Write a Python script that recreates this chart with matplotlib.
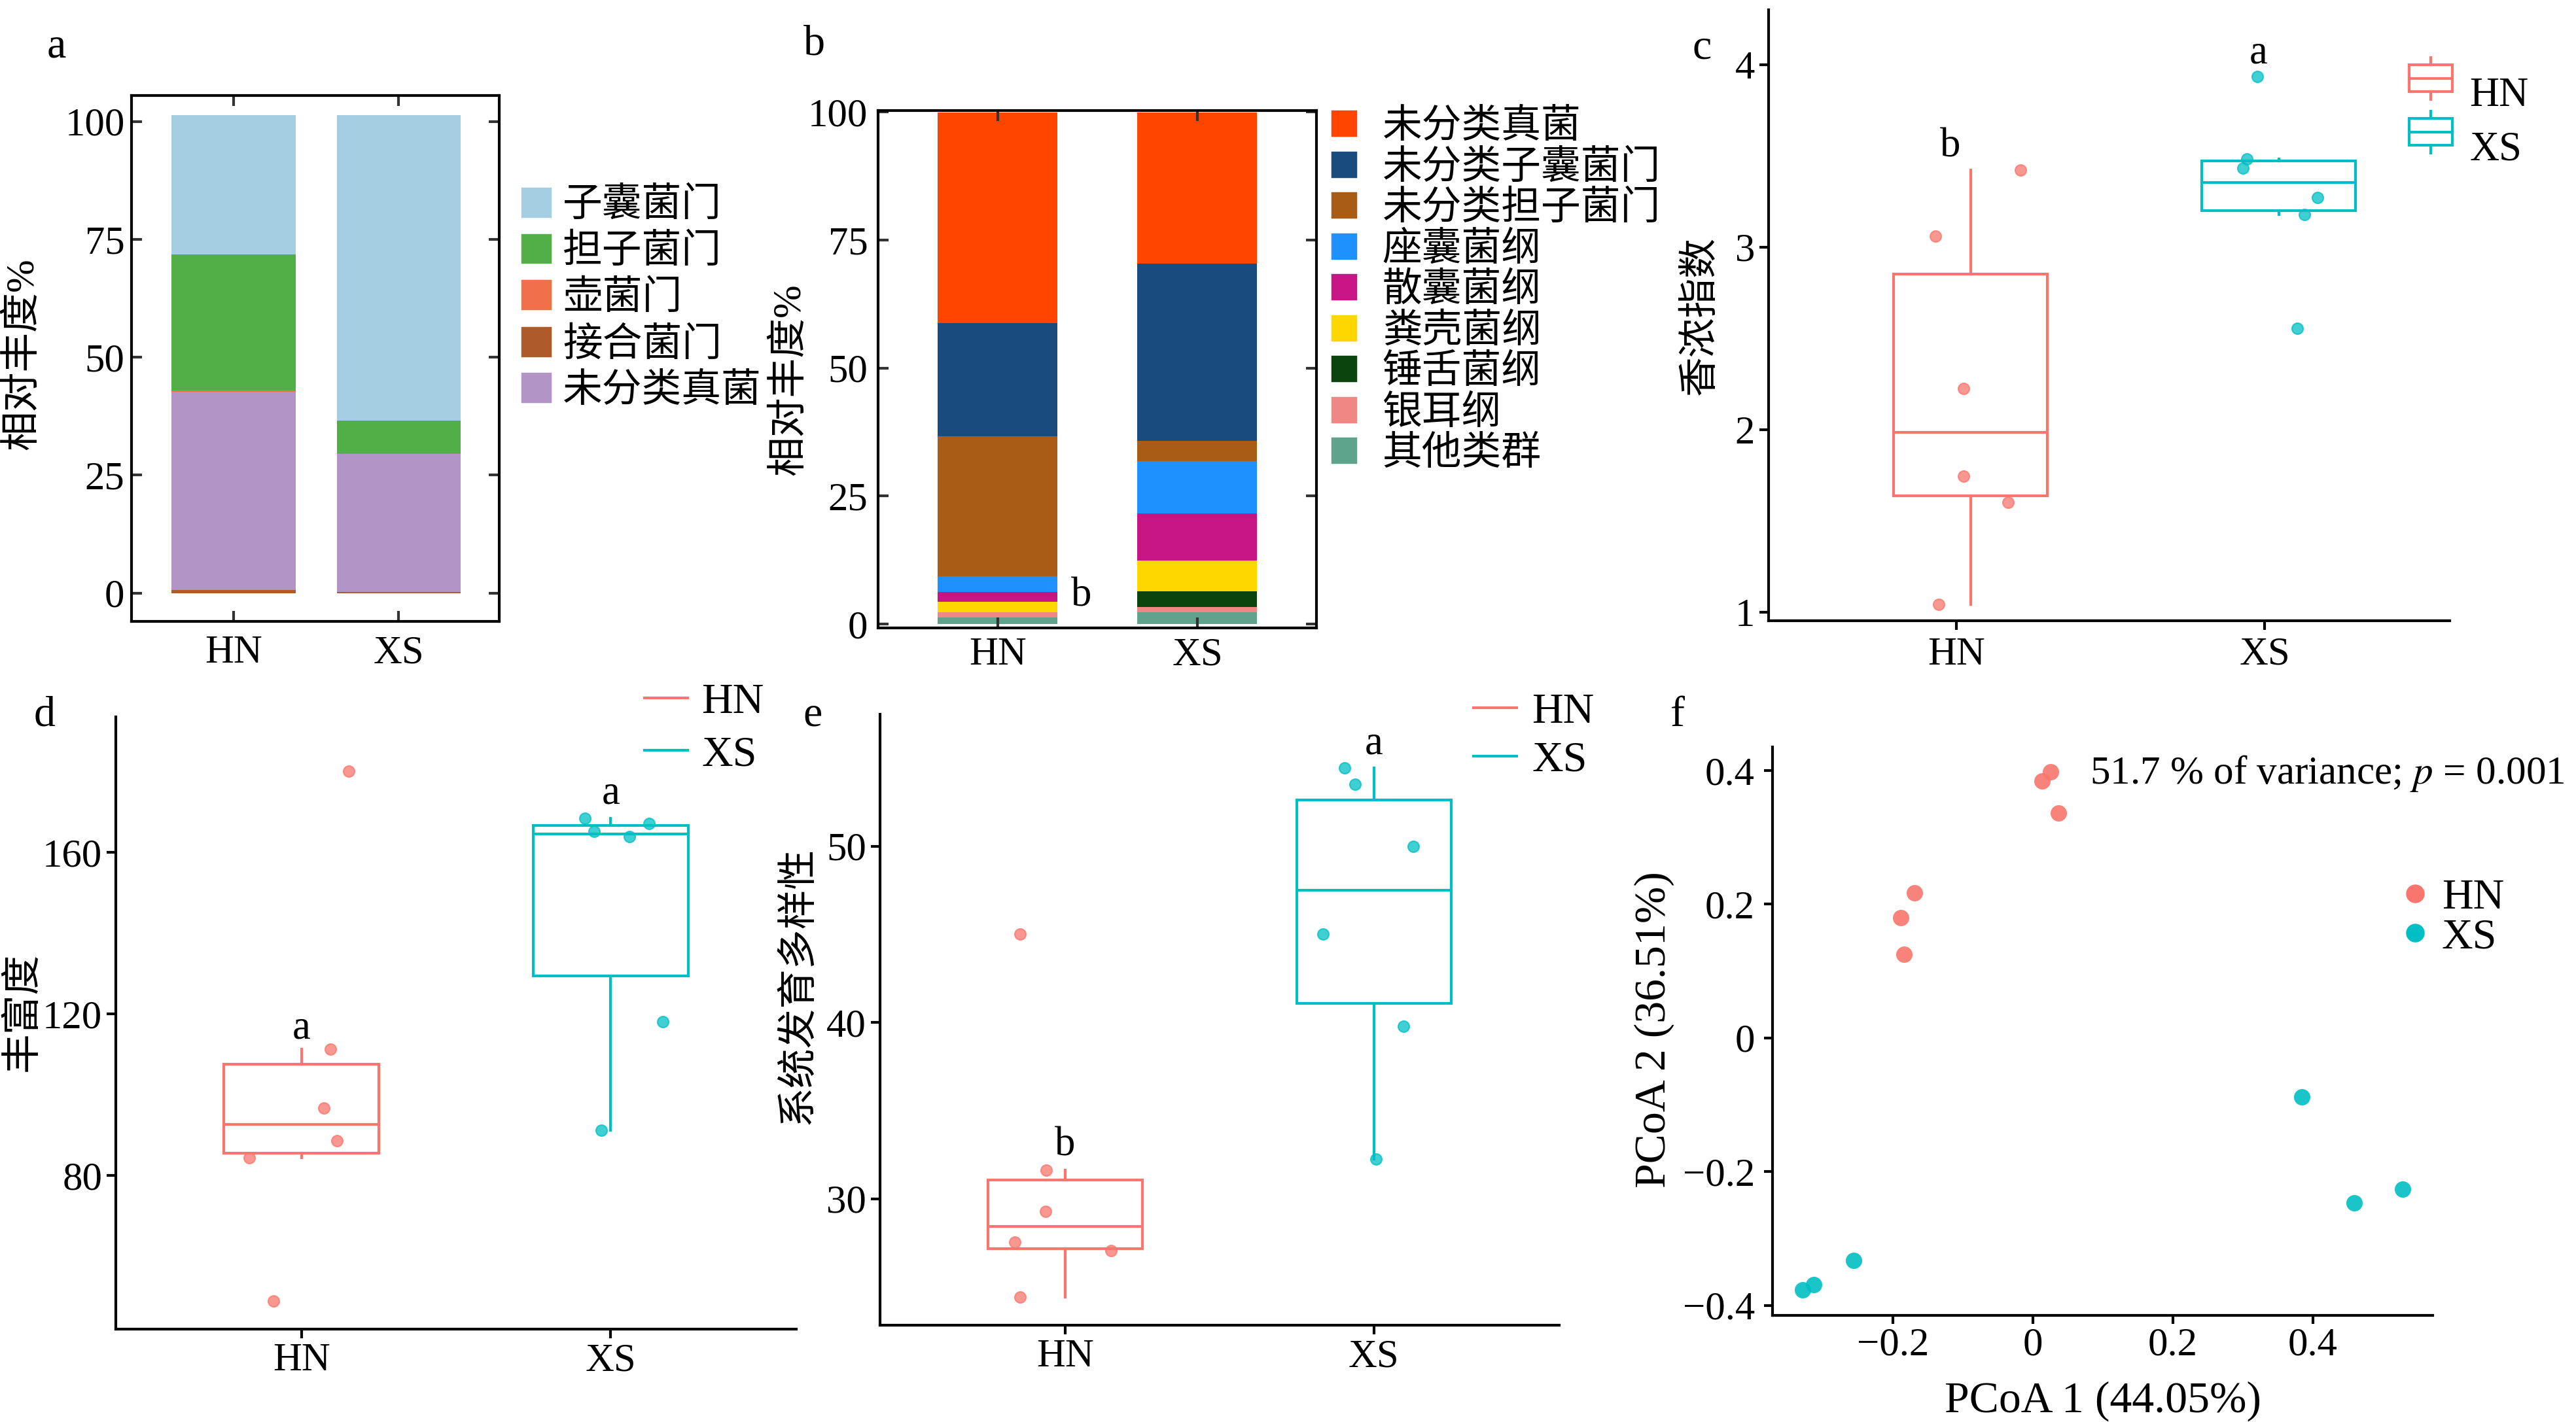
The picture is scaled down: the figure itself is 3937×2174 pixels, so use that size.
import numpy as np
import matplotlib.pyplot as plt
from matplotlib.patches import Patch, Rectangle
from matplotlib.lines import Line2D
from matplotlib.legend_handler import HandlerBase

plt.rcParams['font.family'] = ['Liberation Serif', 'Noto Sans CJK SC']
plt.rcParams['mathtext.fontset'] = 'stix'
plt.rcParams['legend.borderaxespad'] = 0

W, H = 3937, 2174
fig = plt.figure(figsize=(W / 250, H / 250), dpi=250)


def rect(l, t, r, b):
    # pixel box -> figure fraction
    return [l / W, 1 - b / H, (r - l) / W, (b - t) / H]


groups = ['HN', 'XS']
hn_col, xs_col = '#F8766D', '#00BFC4'

# ---- a: phylum level ----
phylum = ['子囊菌门', '担子菌门', '壶菌门', '接合菌门', '未分类真菌']
phylum_colors = ['#A6CEE3', '#52AE47', '#F0704A', '#AF5A2B', '#B294C6']
phylum_hn = [29.5, 28.9, 0.2, 0.7, 42.0]
phylum_xs = [64.7, 7.0, 0.1, 0.2, 29.3]
phylum_stack = [3, 4, 2, 1, 0]   # bottom -> top

# ---- b: class level ----
classes = ['未分类真菌', '未分类子囊菌门', '未分类担子菌门', '座囊菌纲', '散囊菌纲',
           '粪壳菌纲', '锤舌菌纲', '银耳纲', '其他类群']
class_colors = ['#FF4500', '#1A4B7E', '#A85C15', '#1E90FF', '#C71585',
                '#FFD700', '#0B440D', '#F08784', '#5FA38D']
class_hn = [41.2, 22.1, 27.3, 3.0, 2.0, 2.0, 0.0, 1.0, 1.3]
class_xs = [29.5, 34.6, 4.0, 10.2, 9.2, 6.0, 3.1, 1.0, 2.3]

# ---- c: shannon ----
shannon_hn = [3.06, 3.42, 2.225, 1.745, 1.60, 1.04]
shannon_xs = [3.935, 3.484, 3.432, 3.273, 3.177, 2.554]
shannon_jit_hn = [-0.068, 0.207, 0.023, 0.023, 0.166, -0.057]
shannon_jit_xs = [-0.024, -0.059, -0.071, 0.172, 0.129, 0.106]

# ---- d: richness ----
rich_hn = [180.2, 111.2, 96.75, 88.6, 84.4, 48.9]
rich_xs = [168.4, 165.2, 164.0, 167.2, 118.0, 91.2]
rich_jit_hn = [0.153, 0.094, 0.073, 0.115, -0.169, -0.090]
rich_jit_xs = [-0.084, -0.053, 0.061, 0.124, 0.169, -0.031]

# ---- e: phylogenetic diversity ----
pd_hn = [45.0, 31.64, 29.28, 27.56, 27.06, 24.42]
pd_xs = [54.44, 53.5, 49.97, 45.0, 39.8, 32.25]
pd_jit_hn = [-0.146, -0.062, -0.064, -0.164, 0.148, -0.146]
pd_jit_xs = [-0.096, -0.062, 0.128, -0.166, 0.096, 0.007]

# ---- f: PCoA ----
pc1_hn = [0.025, 0.013, 0.036, -0.169, -0.189, -0.184]
pc2_hn = [0.398, 0.384, 0.336, 0.217, 0.180, 0.125]
pc1_xs = [0.384, 0.459, 0.528, -0.256, -0.313, -0.329]
pc2_xs = [-0.088, -0.247, -0.226, -0.333, -0.369, -0.377]

TICK = 17.5
CJK = 17.5


def box_axes(ax):
    for s in ax.spines.values():
        s.set_linewidth(1.2)
    ax.tick_params(direction='in', top=True, right=True, length=4.5, width=1.2,
                   color='#333333', labelsize=TICK)
    ax.set_xticks([0, 1])
    ax.set_xticklabels(groups)


def classic_axes(ax):
    for s in ['top', 'right']:
        ax.spines[s].set_visible(False)
    for s in ['left', 'bottom']:
        ax.spines[s].set_linewidth(1.2)
    ax.tick_params(direction='out', length=4, width=1.2, labelsize=TICK, pad=2)
    ax.set_xticks([1, 2])
    ax.set_xticklabels(groups)
    ax.set_xlim(0.4, 2.6)


def draw_boxes(ax, vals, jits, shift=0.0):
    for i, (v, j, c) in enumerate(zip(vals, jits, [hn_col, xs_col])):
        ax.boxplot(v, positions=[i + 1 + shift], widths=0.5, showcaps=False,
                   showfliers=False, patch_artist=True, manage_ticks=False,
                   boxprops=dict(facecolor='white', edgecolor=c, lw=1.2),
                   medianprops=dict(color=c, lw=1.2),
                   whiskerprops=dict(color=c, lw=1.2))
        ax.scatter(i + 1 + np.array(j), v, s=24, facecolor=c, edgecolor=c,
                   alpha=0.75, lw=0.6, zorder=4)


# ---------------- panel a ----------------
ax = fig.add_axes(rect(201, 146, 763, 950))
bottom = np.zeros(2)
for k in phylum_stack:
    h = np.array([phylum_hn[k], phylum_xs[k]])
    ax.bar([0, 1], h, bottom=bottom, width=0.75, color=phylum_colors[k], lw=0)
    bottom += h
box_axes(ax)
ax.set_xlim(-0.617, 1.608)
ax.set_ylim(-6, 105.5)
ax.set_yticks([0, 25, 50, 75, 100])
ax.tick_params(axis='y', pad=3)
ax.tick_params(axis='x', pad=6)
ax.set_ylabel('相对丰度%', fontsize=CJK)
ax.yaxis.set_label_coords(-0.246, 0.509)
fig.legend(handles=[Patch(color=c, label=n) for n, c in zip(phylum, phylum_colors)],
           loc='center left', bbox_to_anchor=(798 / W, 1 - 457 / H), frameon=False,
           fontsize=CJK, borderpad=0, handlelength=0.7, handleheight=0.71,
           handletextpad=0.32, labelspacing=0.24)

# ---------------- panel b ----------------
ax = fig.add_axes(rect(1342, 169, 2012, 960))
bottom = np.zeros(2)
for k in range(len(classes) - 1, -1, -1):
    h = np.array([class_hn[k], class_xs[k]])
    ax.bar([0, 1], h, bottom=bottom, width=0.6, color=class_colors[k], lw=0)
    bottom += h
box_axes(ax)
ax.set_xlim(-0.6, 1.597)
ax.set_ylim(-0.77, 100.26)
ax.set_yticks([0, 25, 50, 75, 100])
ax.tick_params(axis='y', pad=4.5)
ax.tick_params(axis='x', pad=4)
ax.set_ylabel('相对丰度%', fontsize=CJK)
ax.yaxis.set_label_coords(-0.16, 0.48)
ax.text(0.42, 5.4, 'b', fontsize=18, ha='center', va='center')
fig.legend(handles=[Patch(color=c, label=n) for n, c in zip(classes, class_colors)],
           loc='center left', bbox_to_anchor=(2036 / W, 1 - 445 / H), frameon=False,
           fontsize=CJK, borderpad=0, handlelength=0.6, handleheight=0.56,
           handletextpad=0.66, labelspacing=0.1)


# ---------------- panel c ----------------
class BoxKey(HandlerBase):
    def create_artists(self, legend, orig, xd, yd, w, h, fs, trans):
        c = orig.get_edgecolor()
        r = Rectangle((xd, yd + 0.18 * h), w, 0.64 * h, fc='white', ec=c, lw=1.2,
                      transform=trans)
        m = Line2D([xd, xd + w], [yd + 0.5 * h] * 2, color=c, lw=1.2, transform=trans)
        t = Line2D([xd + w / 2] * 2, [yd + 0.82 * h, yd + h], color=c, lw=1.2,
                   transform=trans)
        b = Line2D([xd + w / 2] * 2, [yd, yd + 0.18 * h], color=c, lw=1.2,
                   transform=trans)
        return [r, m, t, b]


ax = fig.add_axes(rect(2703, 15, 3744, 949))
classic_axes(ax)
draw_boxes(ax, [shannon_hn, shannon_xs], [shannon_jit_hn, shannon_jit_xs], shift=0.045)
ax.set_xlim(0.39, 2.6)
ax.set_ylim(0.952, 4.30)
ax.set_yticks([1, 2, 3, 4])
ax.tick_params(axis='x', pad=3)
ax.set_ylabel('香浓指数', fontsize=CJK)
ax.yaxis.set_label_coords(-0.072, 0.5)
ax.text(0.98, 3.55, 'b', fontsize=18, ha='center', va='center')
ax.text(1.98, 4.06, 'a', fontsize=18, ha='center', va='center')
fig.legend(handles=[Patch(fc='white', ec=hn_col, label='HN'),
                    Patch(fc='white', ec=xs_col, label='XS')],
           handler_map={Patch: BoxKey()}, loc='center left',
           bbox_to_anchor=(3682 / W, 1 - 184 / H), frameon=False, fontsize=18,
           borderpad=0, handlelength=1.06, handleheight=1.2, handletextpad=0.42,
           labelspacing=0.24)

# ---------------- panel d ----------------
ax = fig.add_axes(rect(177, 1096, 1217, 2032))
classic_axes(ax)
draw_boxes(ax, [rich_hn, rich_xs], [rich_jit_hn, rich_jit_xs])
ax.set_ylim(41.9, 193.6)
ax.set_yticks([80, 120, 160])
ax.set_ylabel('丰富度', fontsize=CJK)
ax.yaxis.set_label_coords(-0.109, 0.518)
ax.text(1.0, 116.3, 'a', fontsize=18, ha='center', va='center')
ax.text(2.0, 174.5, 'a', fontsize=18, ha='center', va='center')
fig.legend(handles=[Line2D([], [], color=hn_col, lw=1.2, label='HN'),
                    Line2D([], [], color=xs_col, lw=1.2, label='XS')],
           loc='center left', bbox_to_anchor=(985 / W, 1 - 1114 / H), frameon=False,
           fontsize=19, borderpad=0, handlelength=1.0, handletextpad=0.32,
           labelspacing=0.3)

# ---------------- panel e ----------------
ax = fig.add_axes(rect(1345, 1092, 2383, 2026))
classic_axes(ax)
draw_boxes(ax, [pd_hn, pd_xs], [pd_jit_hn, pd_jit_xs])
ax.set_ylim(22.83, 57.48)
ax.set_yticks([30, 40, 50])
ax.set_ylabel('系统发育多样性', fontsize=CJK)
ax.yaxis.set_label_coords(-0.0925, 0.556)
ax.text(1.0, 33.0, 'b', fontsize=18, ha='center', va='center')
ax.text(2.0, 55.8, 'a', fontsize=18, ha='center', va='center')
fig.legend(handles=[Line2D([], [], color=hn_col, lw=1.2, label='HN'),
                    Line2D([], [], color=xs_col, lw=1.2, label='XS')],
           loc='center left', bbox_to_anchor=(2252 / W, 1 - 1126 / H), frameon=False,
           fontsize=19, borderpad=0, handlelength=1.0, handletextpad=0.35,
           labelspacing=0.2)

# ---------------- panel f ----------------
ax = fig.add_axes(rect(2709, 1142, 3718, 2011))
for s in ['top', 'right']:
    ax.spines[s].set_visible(False)
for s in ['left', 'bottom']:
    ax.spines[s].set_linewidth(1.2)
ax.scatter(pc1_hn, pc2_hn, s=52, color=hn_col, alpha=0.9, lw=0, label='HN')
ax.scatter(pc1_xs, pc2_xs, s=52, color=xs_col, alpha=0.9, lw=0, label='XS')
ax.set_xlim(-0.372, 0.571)
ax.set_ylim(-0.415, 0.435)
ax.set_xticks([-0.2, 0, 0.2, 0.4])
ax.set_xticklabels(['\u22120.2', '0', '0.2', '0.4'])
ax.set_yticks([-0.4, -0.2, 0, 0.2, 0.4])
ax.set_yticklabels(['\u22120.4', '\u22120.2', '0', '0.2', '0.4'])
ax.tick_params(direction='out', length=3.8, width=1.2, labelsize=TICK)
ax.tick_params(axis='x', pad=1.5)
ax.tick_params(axis='y', pad=4)
ax.set_xlabel('PCoA 1 (44.05%)', fontsize=19.5)
ax.xaxis.set_label_coords(0.5, -0.116)
ax.set_ylabel('PCoA 2 (36.51%)', fontsize=19.5)
ax.yaxis.set_label_coords(-0.149, 0.503)
ax.text(0.081, 0.395, '51.7 % of variance; $p$ = 0.001', fontsize=17.6,
        ha='left', va='center')
fig.legend(handles=[Line2D([], [], ls='', marker='o', ms=7.2, color=hn_col, label='HN'),
                    Line2D([], [], ls='', marker='o', ms=7.2, color=xs_col, label='XS')],
           loc='center left', bbox_to_anchor=(3675 / W, 1 - 1403 / H), frameon=False,
           fontsize=19, borderpad=0, handlelength=0.5, handletextpad=0.36,
           labelspacing=0.0)

# panel letters
for lab, x, y in [('a', 86, 72), ('b', 1245, 68), ('c', 2601, 74),
                  ('d', 68, 1094), ('e', 1242, 1094), ('f', 2564, 1094)]:
    fig.text(x / W, 1 - y / H, lab, fontsize=19, ha='center', va='center')

fig.savefig('out.png', dpi=250)
